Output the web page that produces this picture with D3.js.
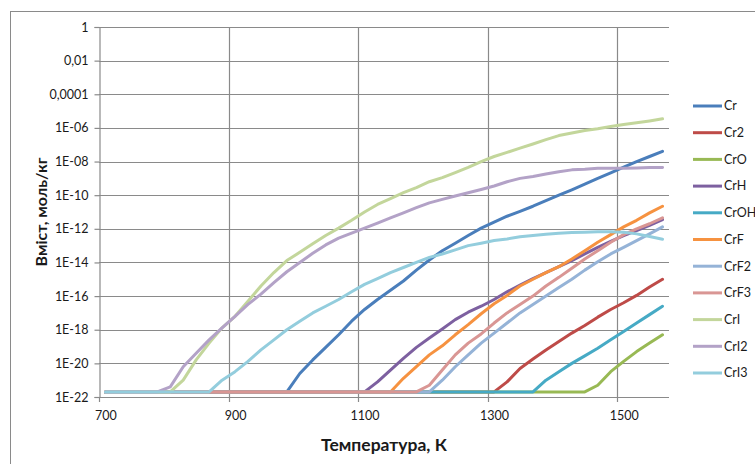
<!DOCTYPE html>
<html>
<head>
<meta charset="utf-8">
<script src="https://cdn.jsdelivr.net/npm/d3@7"></script>
<style>
  html, body { margin: 0; padding: 0; background: #fff; }
  svg { display: block; }
  text { font-family: Lato, "Open Sans", sans-serif; fill: #1a1a1a; }
</style>
</head>
<body>
<svg id="chart" width="755" height="464"></svg>
<script>
// Temperature categories, K
const temps = [700,720,740,760,780,800,820,840,860,880,900,920,940,960,980,1000,1020,1040,1060,1080,1100,1120,1140,1160,1180,1200,1220,1240,1260,1280,1300,1320,1340,1360,1380,1400,1420,1440,1460,1480,1500,1520,1540,1560];
const tempTickLabels = [700, 900, 1100, 1300, 1500];

// Content of each species, mol/kg
const cr   = [2e-22,2e-22,2e-22,2e-22,2e-22,2e-22,2e-22,2e-22,2e-22,2e-22,2e-22,2e-22,2e-22,2e-22,2e-22,2.5e-21,1.6e-20,8.9e-20,5e-19,3.2e-18,1.6e-17,6.3e-17,2.2e-16,7.9e-16,3.5e-15,1.4e-14,5e-14,1.4e-13,4e-13,1.1e-12,2.5e-12,5.6e-12,1.1e-11,2.2e-11,4.7e-11,1e-10,2.1e-10,4.5e-10,1e-9,2.1e-9,4.6e-9,1e-8,2e-8,4e-8];
const cr2  = [2e-22,2e-22,2e-22,2e-22,2e-22,2e-22,2e-22,2e-22,2e-22,2e-22,2e-22,2e-22,2e-22,2e-22,2e-22,2e-22,2e-22,2e-22,2e-22,2e-22,2e-22,2e-22,2e-22,2e-22,2e-22,2e-22,2e-22,2e-22,2e-22,2e-22,2e-22,7.9e-22,5e-21,1.8e-20,6.3e-20,2e-19,6.3e-19,1.8e-18,5.6e-18,1.6e-17,4e-17,1.1e-16,3.5e-16,1e-15];
const crO  = [2e-22,2e-22,2e-22,2e-22,2e-22,2e-22,2e-22,2e-22,2e-22,2e-22,2e-22,2e-22,2e-22,2e-22,2e-22,2e-22,2e-22,2e-22,2e-22,2e-22,2e-22,2e-22,2e-22,2e-22,2e-22,2e-22,2e-22,2e-22,2e-22,2e-22,2e-22,2e-22,2e-22,2e-22,2e-22,2e-22,2e-22,2e-22,5e-22,3.2e-21,1.3e-20,5e-20,1.6e-19,5e-19];
const crH  = [2e-22,2e-22,2e-22,2e-22,2e-22,2e-22,2e-22,2e-22,2e-22,2e-22,2e-22,2e-22,2e-22,2e-22,2e-22,2e-22,2e-22,2e-22,2e-22,2e-22,2e-22,7.9e-22,4e-21,2e-20,8.9e-20,3.2e-19,1.1e-18,4e-18,1.1e-17,2.5e-17,6.3e-17,1.8e-16,4.5e-16,1.1e-15,2.5e-15,5.6e-15,1.3e-14,3.2e-14,7.9e-14,1.8e-13,4e-13,7.9e-13,1.6e-12,3.5e-12];
const crOH = [2e-22,2e-22,2e-22,2e-22,2e-22,2e-22,2e-22,2e-22,2e-22,2e-22,2e-22,2e-22,2e-22,2e-22,2e-22,2e-22,2e-22,2e-22,2e-22,2e-22,2e-22,2e-22,2e-22,2e-22,2e-22,2e-22,2e-22,2e-22,2e-22,2e-22,2e-22,2e-22,2e-22,2e-22,1e-21,3.2e-21,1e-20,2.8e-20,7.9e-20,2.5e-19,7.9e-19,2.5e-18,7.9e-18,2.5e-17];
const crF  = [2e-22,2e-22,2e-22,2e-22,2e-22,2e-22,2e-22,2e-22,2e-22,2e-22,2e-22,2e-22,2e-22,2e-22,2e-22,2e-22,2e-22,2e-22,2e-22,2e-22,2e-22,2e-22,2e-22,1.3e-21,6.3e-21,3.2e-20,1.1e-19,5e-19,2e-18,8.9e-18,3.5e-17,1.1e-16,4e-16,1e-15,2.5e-15,5.6e-15,1.6e-14,5e-14,1.6e-13,4.5e-13,1.3e-12,3.2e-12,8.9e-12,2.2e-11];
const crF2 = [2e-22,2e-22,2e-22,2e-22,2e-22,2e-22,2e-22,2e-22,2e-22,2e-22,2e-22,2e-22,2e-22,2e-22,2e-22,2e-22,2e-22,2e-22,2e-22,2e-22,2e-22,2e-22,2e-22,2e-22,2e-22,2e-22,1e-21,6.3e-21,3.2e-20,1.6e-19,6.3e-19,2.5e-18,1e-17,3.2e-17,1e-16,3.2e-16,1e-15,3.5e-15,1.1e-14,3.2e-14,7.9e-14,2e-13,5e-13,1.3e-12];
const crF3 = [2e-22,2e-22,2e-22,2e-22,2e-22,2e-22,2e-22,2e-22,2e-22,2e-22,2e-22,2e-22,2e-22,2e-22,2e-22,2e-22,2e-22,2e-22,2e-22,2e-22,2e-22,2e-22,2e-22,2e-22,2e-22,5e-22,4e-21,3.2e-20,1.6e-19,5.6e-19,2.5e-18,1e-17,3.2e-17,1e-16,4e-16,1.3e-15,4.5e-15,1.6e-14,5e-14,1.6e-13,4.5e-13,1e-12,2e-12,4.5e-12];
const crI  = [2e-22,2e-22,2e-22,2e-22,2e-22,2e-22,1e-21,1.6e-20,1.6e-19,1.3e-18,6.3e-18,5e-17,4e-16,2.5e-15,1.3e-14,4e-14,1.3e-13,4e-13,1.1e-12,3.2e-12,1e-11,2.8e-11,6.3e-11,1.4e-10,2.8e-10,6.3e-10,1.1e-9,2.2e-9,4.5e-9,1e-8,2e-8,3.5e-8,6.3e-8,1.1e-7,2e-7,3.5e-7,5e-7,7.1e-7,8.9e-7,1.2e-6,1.6e-6,2e-6,2.6e-6,3.5e-6];
const crI2 = [2e-22,2e-22,2e-22,2e-22,2e-22,4e-22,6.3e-21,4e-20,2.5e-19,1.3e-18,6.3e-18,3.2e-17,1.3e-16,6.3e-16,2.8e-15,1e-14,3.5e-14,1.1e-13,2.8e-13,5.6e-13,1.1e-12,2.2e-12,4.5e-12,8.9e-12,1.8e-11,3.5e-11,5.6e-11,8.9e-11,1.4e-10,2.2e-10,3.5e-10,6.3e-10,1e-9,1.3e-9,1.8e-9,2.5e-9,3.2e-9,3.5e-9,4e-9,4e-9,4e-9,4.2e-9,4.4e-9,4.5e-9];
const crI3 = [2e-22,2e-22,2e-22,2e-22,2e-22,2e-22,2e-22,2e-22,2e-22,1e-21,3.2e-21,1.3e-20,6.3e-20,2.5e-19,1e-18,3.2e-18,1e-17,2.5e-17,6.3e-17,1.8e-16,5e-16,1.1e-15,2.5e-15,5e-15,1e-14,2e-14,3.2e-14,5.6e-14,1e-13,1.4e-13,2e-13,2.5e-13,3.4e-13,4e-13,4.7e-13,5.4e-13,6e-13,6.3e-13,6.8e-13,6.8e-13,6.3e-13,5e-13,3.5e-13,2.4e-13];

const seriesNames  = ["Cr", "Cr2", "CrO", "CrH", "CrOH", "CrF", "CrF2", "CrF3", "CrI", "CrI2", "CrI3"];
const seriesValues = [cr, cr2, crO, crH, crOH, crF, crF2, crF3, crI, crI2, crI3];
const seriesColors = ["#4A7EBB", "#BE4B48", "#98B954", "#7D60A0", "#46AAC5", "#F69240", "#95B3D7", "#D99694", "#C3D69B", "#B3A2C7", "#93CDDD"];

const yTickValues = [1e-22, 1e-20, 1e-18, 1e-16, 1e-14, 1e-12, 1e-10, 1e-8, 1e-6, 1e-4, 1e-2, 1];
const yTickLabels = ["1E-22", "1E-20", "1E-18", "1E-16", "1E-14", "1E-12", "1E-10", "1E-08", "1E-06", "0,0001", "0,01", "1"];

const xTitle = "Температура, К";
const yTitle = "Вміст, моль/кг";

// Layout
const plot = { left: 99, right: 669, top: 27, bottom: 397 };
const gridColor = "#8a8a8a";

const svg = d3.select("#chart");

// Outer chart frame (runs off the right and bottom edges)
svg.append("rect")
  .attr("x", 10.5).attr("y", 11.5)
  .attr("width", 800).attr("height", 500)
  .attr("fill", "none").attr("stroke", "#8a8a8a").attr("stroke-width", 1);

const x = d3.scalePoint()
  .domain(temps)
  .range([plot.left, plot.right])
  .padding(0.5);
const step = x.step();

const y = d3.scaleLog()
  .domain([1e-22, 1])
  .range([plot.bottom, plot.top]);

// Horizontal gridlines
svg.append("g")
  .selectAll("line")
  .data(yTickValues.slice(1))
  .join("line")
  .attr("x1", plot.left).attr("x2", plot.right)
  .attr("y1", d => Math.round(y(d)) + 0.5).attr("y2", d => Math.round(y(d)) + 0.5)
  .attr("stroke", gridColor).attr("stroke-width", 1.2);

// Vertical gridlines sit on the category boundaries, to the left of the labelled categories
const boundary = t => Math.round(x(t) - step / 2) + 0.5;
svg.append("g")
  .selectAll("line")
  .data(tempTickLabels.slice(1))
  .join("line")
  .attr("x1", boundary).attr("x2", boundary)
  .attr("y1", plot.top).attr("y2", plot.bottom + 5)
  .attr("stroke", gridColor).attr("stroke-width", 1.2);

// Left axis
const yAxis = d3.axisLeft(y)
  .tickValues(yTickValues)
  .tickFormat((d, i) => yTickLabels[i])
  .tickSize(5)
  .tickPadding(6);
const gy = svg.append("g")
  .attr("transform", `translate(${plot.left + 0.5},0)`)
  .call(yAxis);
gy.select(".domain").attr("stroke", gridColor).attr("stroke-width", 1.2);
gy.selectAll(".tick line").attr("stroke", gridColor).attr("stroke-width", 1.2);
gy.selectAll(".tick text").attr("font-size", 12.5).attr("font-family", "Lato, sans-serif").attr("fill", "#1a1a1a");

// Bottom axis: labels centred on categories, tick marks on boundaries
const xAxis = d3.axisBottom(x)
  .tickValues(tempTickLabels)
  .tickSize(0)
  .tickPadding(14);
const gx = svg.append("g")
  .attr("transform", `translate(0,${plot.bottom + 0.5})`)
  .call(xAxis);
gx.select(".domain").remove();
gx.selectAll(".tick text").attr("font-size", 12.5).attr("font-family", "Lato, sans-serif").attr("fill", "#1a1a1a");

svg.append("line")
  .attr("x1", plot.left).attr("x2", plot.right)
  .attr("y1", plot.bottom + 0.5).attr("y2", plot.bottom + 0.5)
  .attr("stroke", gridColor).attr("stroke-width", 1.2);
svg.append("line")
  .attr("x1", boundary(700)).attr("x2", boundary(700))
  .attr("y1", plot.bottom).attr("y2", plot.bottom + 5)
  .attr("stroke", gridColor).attr("stroke-width", 1.2);

// Series lines
const line = d3.line()
  .x((d, i) => x(temps[i]))
  .y(d => y(d));

svg.append("g")
  .selectAll("path")
  .data(seriesValues)
  .join("path")
  .attr("d", line)
  .attr("fill", "none")
  .attr("stroke", (d, i) => seriesColors[i])
  .attr("stroke-width", 3)
  .attr("stroke-linejoin", "round")
  .attr("stroke-linecap", "round");

// Axis titles
svg.append("text")
  .attr("x", (plot.left + plot.right) / 2)
  .attr("y", 451)
  .attr("text-anchor", "middle")
  .attr("font-size", 17.5)
  .attr("font-weight", "bold")
  .text(xTitle);

svg.append("text")
  .attr("transform", `translate(47,${(plot.top + plot.bottom) / 2}) rotate(-90)`)
  .attr("text-anchor", "middle")
  .attr("font-size", 16)
  .attr("font-weight", "bold")
  .text(yTitle);

// Legend
const legend = svg.append("g")
  .selectAll("g")
  .data(seriesNames)
  .join("g")
  .attr("transform", (d, i) => `translate(693,${106 + i * 26.7})`);
legend.append("line")
  .attr("x1", 0).attr("x2", 29)
  .attr("stroke", (d, i) => seriesColors[i])
  .attr("stroke-width", 3);
legend.append("text")
  .attr("x", 31)
  .attr("dy", "0.35em")
  .attr("font-size", 12.5)
  .text(d => d);
</script>
</body>
</html>
